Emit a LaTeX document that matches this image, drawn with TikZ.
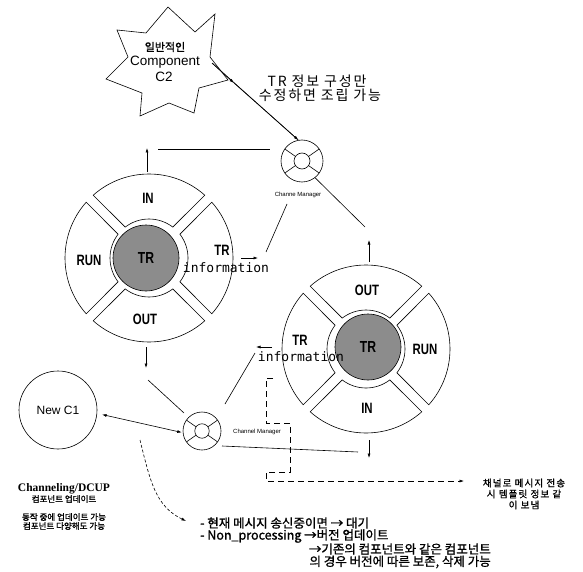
\documentclass[tikz,border=0pt]{standalone}
\usepackage{fontspec}
\setmainfont{Liberation Sans}
\newfontfamily\kr{Noto Sans CJK KR}
\newfontfamily\krsp{Noto Sans CJK KR}[LetterSpace=13]
\newfontfamily\krb{Noto Sans CJK KR}[FakeBold=1.2]
\newfontfamily\krbsp{Noto Sans CJK KR}[FakeBold=1.2, LetterSpace=12]
\newfontfamily\segf{Liberation Sans}[FakeStretch=0.76]
\newfontfamily\monof{DejaVu Sans Mono}
\newfontfamily\serifb{Liberation Serif}
\usetikzlibrary{arrows.meta}
\begin{document}
\begin{tikzpicture}[x=1pt,y=-1pt]
\tikzset{
  ln/.style={line width=0.6pt},
  arr/.style={ln,-{Latex[length=4.5pt,width=3pt]}},
  darr/.style={ln,{Latex[length=4.5pt,width=3pt]}-{Latex[length=4.5pt,width=3pt]}},
  dsh/.style={ln,dash pattern=on 6pt off 4pt},
  seglbl/.style={font=\segf\bfseries\fontsize{15}{15}\selectfont, inner sep=0},
  info/.style={font=\monof\fontsize{13}{13}\selectfont, inner sep=0},
  core/.style={circle, draw, line width=0.6pt, fill=black!45, minimum size=66pt, inner sep=0, font=\segf\bfseries\fontsize{16}{16}\selectfont},
  cmouter/.style={circle, draw, line width=0.6pt, minimum size=42pt, inner sep=0},
  tinylbl/.style={font=\fontsize{6}{6}\selectfont, inner sep=0},
  krtxt/.style={font=\krsp\fontsize{14}{15}\selectfont, inner sep=0},
  bottxt/.style={font=\krb\fontsize{12.5}{13}\selectfont, inner sep=0},
  smallkr/.style={font=\krb\fontsize{8.5}{9}\selectfont, inner sep=0},
  ringseg/.pic={
    \draw[ln] ({-45+7.4}:39) -- ({-45+3.4}:84)
      arc[start angle={-45+3.4}, end angle={45-3.4}, radius=84]
      -- ({45-7.4}:39)
      arc[start angle={45-7.4}, end angle={-45+7.4}, radius=39] -- cycle;
  },
  cmdetail/.pic={
    \draw[ln] (0,0) circle[radius=8];
    \foreach \a in {35,145,215,325} \draw[ln] (\a:8) -- (\a:21);
  }
}
\fill[white] (0,0) rectangle (583,572);
\useasboundingbox (0,0) rectangle (583,572);

% ---- star component C2
\draw[ln] (168,7) -- (195,32) -- (215,14) -- (210,57) -- (228,80) -- (199,88) -- (194,113)
  -- (169,103) -- (140,116) -- (142,93) -- (106,79) -- (128,57) -- (117,30) -- (146,33) -- cycle;
\node[font=\krb\fontsize{11}{11}\selectfont, inner sep=0] (star1) at (165,47) {일반적인};
\node[font=\fontsize{13.5}{13.5}\selectfont, inner sep=0] (star2) at (165,62) {Component};
\node[font=\fontsize{13.5}{13.5}\selectfont, inner sep=0] (star3) at (164,77) {C2};
\coordinate (starR) at (212,63);
\coordinate (starM) at (234,83);

\node[krtxt] (note1) at (317,81) {TR 정보 구성만};
\node[krtxt] (note2) at (320,95) {수정하면 조립 가능};

% ---- top channel manager
\node[cmouter] (cm1) at (302,161) {};
\pic at (cm1) {cmdetail};
\node[tinylbl] (cm1lbl) at (298,195) {Channe Manager};

% ---- left component
\coordinate (L) at (149,258);
\pic at (L) {ringseg};
\pic[rotate=90] at (L) {ringseg};
\pic[rotate=180] at (L) {ringseg};
\pic[rotate=270] at (L) {ringseg};
\node[core] (Ltr) at (146,258) {TR};
\node[seglbl] (Lin) at (148,198) {IN};
\node[seglbl] (Lrun) at (89,260) {RUN};
\node[seglbl] (Lout) at (145,319) {OUT};
\node[seglbl] (Ltr2) at (222,250) {TR};
\node[info] (Linfo) at (226,268) {information};

% ---- right component
\coordinate (R) at (366,349);
\pic at (R) {ringseg};
\pic[rotate=90] at (R) {ringseg};
\pic[rotate=180] at (R) {ringseg};
\pic[rotate=270] at (R) {ringseg};
\node[core] (Rtr) at (368,347) {TR};
\node[seglbl] (Rout) at (367,290) {OUT};
\node[seglbl] (Rrun) at (425,349) {RUN};
\node[seglbl] (Rin) at (367,408) {IN};
\node[seglbl] (Rtr2) at (300,340) {TR};
\node[info] (Rinfo) at (301,357) {information};

% ---- new component C1
\node[circle, draw, line width=0.6pt, minimum size=78pt, inner sep=0, font=\fontsize{12}{12}\selectfont] (newc1) at (58,410) {New C1};

% ---- bottom channel manager
\node[cmouter, minimum size=38pt] (cm2) at (202,431) {};
\pic[scale=0.905] at (cm2) {cmdetail};
\node[tinylbl, anchor=west] (cm2lbl) at (233,432) {Channel Manager};

% ---- connectors
\draw[ln] (starR) -- (cm1.100);
\draw[arr] (starR) -- (starM);
\draw[arr] (starM) -- (cm1.100);
\coordinate (Lup0) at (147,172);
\coordinate (Lup1) at (147,148);
\draw[arr] (Lup0) -- (Lup1);
\coordinate (h1a) at (158,149);
\coordinate (h1b) at (270,149);
\draw[ln] (h1a) -- (h1b);
\coordinate (ia0) at (241,258);
\coordinate (ia1) at (258,258);
\draw[arr] (ia0) -- (ia1);
\coordinate (ib0) at (266,252);
\coordinate (ib1) at (287,204);
\draw[ln] (ib0) -- (ib1);
\coordinate (rr1) at (365,227);
\draw[ln] (cm1.-52) -- (rr1);
\coordinate (Rup0) at (369,262);
\coordinate (Rup1) at (369,240);
\draw[arr] (Rup0) -- (Rup1);
\coordinate (ra0) at (272,347);
\coordinate (ra1) at (256,347);
\draw[arr] (ra0) -- (ra1);
\coordinate (rb0) at (255,353);
\coordinate (rb1) at (225,404);
\draw[ln] (rb0) -- (rb1);
\coordinate (Ldn0) at (146,347);
\coordinate (Ldn1) at (146,368);
\draw[arr] (Ldn0) -- (Ldn1);
\coordinate (lb0) at (148,380);
\coordinate (lb1) at (184,413);
\draw[ln] (lb0) -- (lb1);
\draw[darr, shorten <=5pt, shorten >=1pt] (newc1.-5) -- (cm2.185);
\coordinate (cb0) at (222,446);
\coordinate (cb1) at (358,452);
\draw[ln] (cb0) -- (cb1);
\coordinate (Rdn0) at (369,440);
\coordinate (Rdn1) at (369,458);
\draw[arr] (Rdn0) -- (Rdn1);

% ---- dashed message path
\node[font=\krbsp\fontsize{9.5}{11}\selectfont, align=center, inner sep=0] (rtext) at (524,494) {채널로 메시지 전송\\시 템플릿 정보 같\\이 보냄};
\coordinate (dend) at (464,481);
\draw[dsh, -{Latex[length=4.5pt,width=3pt]}] (273,378) -- (266,378) -- (266,423) -- (290,423) -- (290,472) -- (266,472) -- (266,481) -- (dend);

% ---- bottom-left notes
\node[font=\serifb\bfseries\fontsize{11.5}{11.5}\selectfont, inner sep=0] (bl1) at (64,489) {Channeling/DCUP};
\node[smallkr] (bl2) at (64,499) {컴포넌트 업데이트};
\node[smallkr] (bl3) at (64,517) {동작 중에 업데이트 가능};
\node[smallkr] (bl4) at (64,526) {컴포넌트 다양해도 가능};

% ---- bottom notes
\node[bottxt, anchor=west] (b1) at (200,523) {- 현재 메시지 송신중이면 → 대기};
\node[bottxt, anchor=west] (b2) at (200,536) {- Non\_processing →버전 업데이트};
\node[bottxt, anchor=east] (b3) at (491,549) {→기존의 컴포넌트와 같은 컴포넌트};
\node[bottxt, anchor=east] (b4) at (491,562) {의 경우 버전에 따른 보존, 삭제 가능};
\coordinate (cv0) at (140,440);
\coordinate (cv1) at (186,521);
\draw[ln, dash pattern=on 3pt off 2pt, -{Latex[length=4.5pt,width=3pt]}] (cv0) .. controls (150,480) and (155,506) .. (cv1);
\end{tikzpicture}
\end{document}
